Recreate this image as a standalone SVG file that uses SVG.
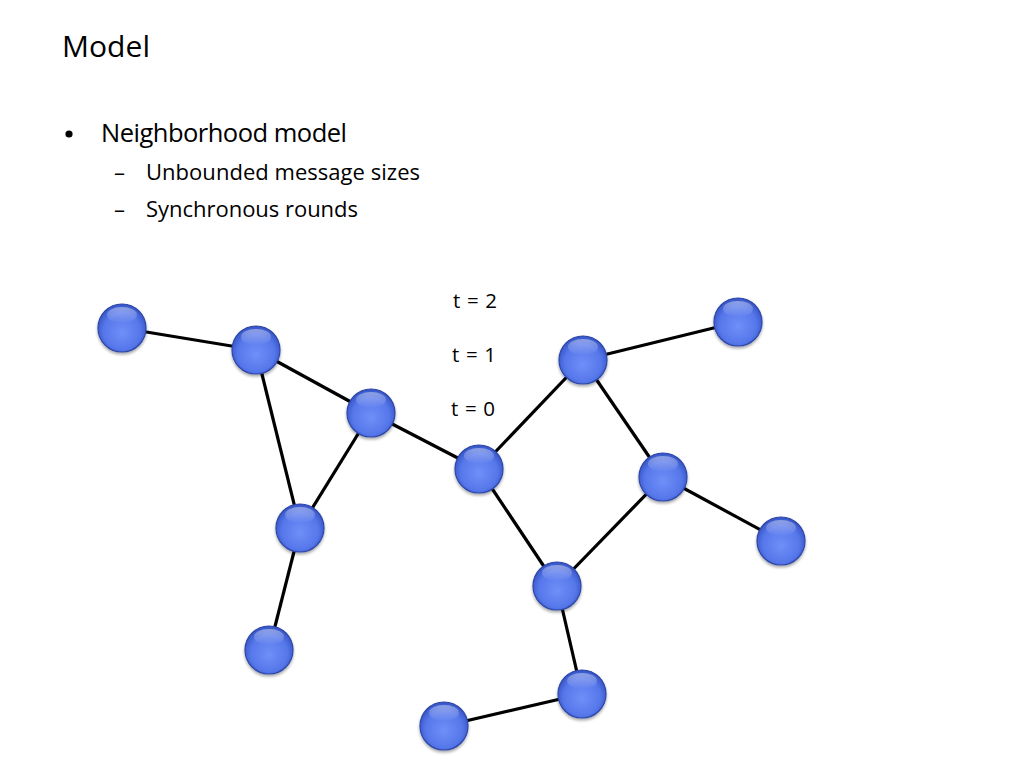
<svg xmlns="http://www.w3.org/2000/svg" width="1024" height="768" viewBox="0 0 1024 768">
<defs>
<radialGradient id="ball" cx="0.5" cy="0.55" r="0.55" fx="0.5" fy="0.6">
<stop offset="0" stop-color="#6f8ff8"/>
<stop offset="0.7" stop-color="#5677ea"/>
<stop offset="1" stop-color="#3553c4"/>
</radialGradient>
<linearGradient id="hl" x1="0" y1="0" x2="0" y2="1">
<stop offset="0" stop-color="#ffffff" stop-opacity="0.4"/>
<stop offset="1" stop-color="#ffffff" stop-opacity="0"/>
</linearGradient>
<filter id="sh" x="-30%" y="-30%" width="160%" height="160%">
<feGaussianBlur in="SourceAlpha" stdDeviation="1.5"/>
<feOffset dx="0" dy="2" result="b"/>
<feComponentTransfer><feFuncA type="linear" slope="0.35"/></feComponentTransfer>
<feMerge><feMergeNode/><feMergeNode in="SourceGraphic"/></feMerge>
</filter>
<g id="node">
<circle r="24" fill="url(#ball)" stroke="#2d47a8" stroke-width="1.2"/>
<ellipse cx="0" cy="-13" rx="15" ry="8" fill="url(#hl)"/>
</g>
</defs>
<style>
.t{font-family:"Open Sans","Liberation Sans",sans-serif;fill:#000}
.e{stroke:#000;stroke-width:3.2;fill:none}
</style>
<rect width="1024" height="768" fill="#fff"/>
<text class="t" x="62" y="57" font-size="30" textLength="88">Model</text>
<circle cx="69" cy="134" r="3.6" fill="#000"/>
<text class="t" x="101" y="142" font-size="25.5" textLength="246">Neighborhood model</text>
<text class="t" x="114" y="180" font-size="22">–</text>
<text class="t" x="146" y="180" font-size="22" textLength="274">Unbounded message sizes</text>
<text class="t" x="114" y="217" font-size="22">–</text>
<text class="t" x="146" y="217" font-size="22" textLength="212">Synchronous rounds</text>
<text class="t" x="453" y="308" font-size="20.5" textLength="44">t = 2</text>
<text class="t" x="452" y="362" font-size="20.5" textLength="44">t = 1</text>
<text class="t" x="451" y="416" font-size="20.5" textLength="44">t = 0</text>
<g id="edges" class="e">
<line class="e" x1="122" y1="328" x2="256" y2="350"/>
<line class="e" x1="256" y1="350" x2="371" y2="413"/>
<line class="e" x1="256" y1="350" x2="300" y2="528"/>
<line class="e" x1="371" y1="413" x2="300" y2="528"/>
<line class="e" x1="300" y1="528" x2="269" y2="650"/>
<line class="e" x1="371" y1="413" x2="479" y2="469"/>
<line class="e" x1="479" y1="469" x2="583" y2="360"/>
<line class="e" x1="479" y1="469" x2="557" y2="586"/>
<line class="e" x1="583" y1="360" x2="738" y2="322"/>
<line class="e" x1="583" y1="360" x2="663" y2="477"/>
<line class="e" x1="663" y1="477" x2="781" y2="541"/>
<line class="e" x1="663" y1="477" x2="557" y2="586"/>
<line class="e" x1="557" y1="586" x2="582" y2="694"/>
<line class="e" x1="582" y1="694" x2="444" y2="726"/>
</g>
<g filter="url(#sh)">
<g id="n1"><use href="#node" x="122" y="328"/></g>
<g id="n2"><use href="#node" x="256" y="350"/></g>
<g id="n3"><use href="#node" x="371" y="413"/></g>
<g id="n4"><use href="#node" x="300" y="528"/></g>
<g id="n5"><use href="#node" x="269" y="650"/></g>
<g id="n6"><use href="#node" x="479" y="469"/></g>
<g id="n7"><use href="#node" x="583" y="360"/></g>
<g id="n8"><use href="#node" x="738" y="322"/></g>
<g id="n9"><use href="#node" x="663" y="477"/></g>
<g id="n10"><use href="#node" x="781" y="541"/></g>
<g id="n11"><use href="#node" x="557" y="586"/></g>
<g id="n12"><use href="#node" x="582" y="694"/></g>
<g id="n13"><use href="#node" x="444" y="726"/></g>
</g>
</svg>
